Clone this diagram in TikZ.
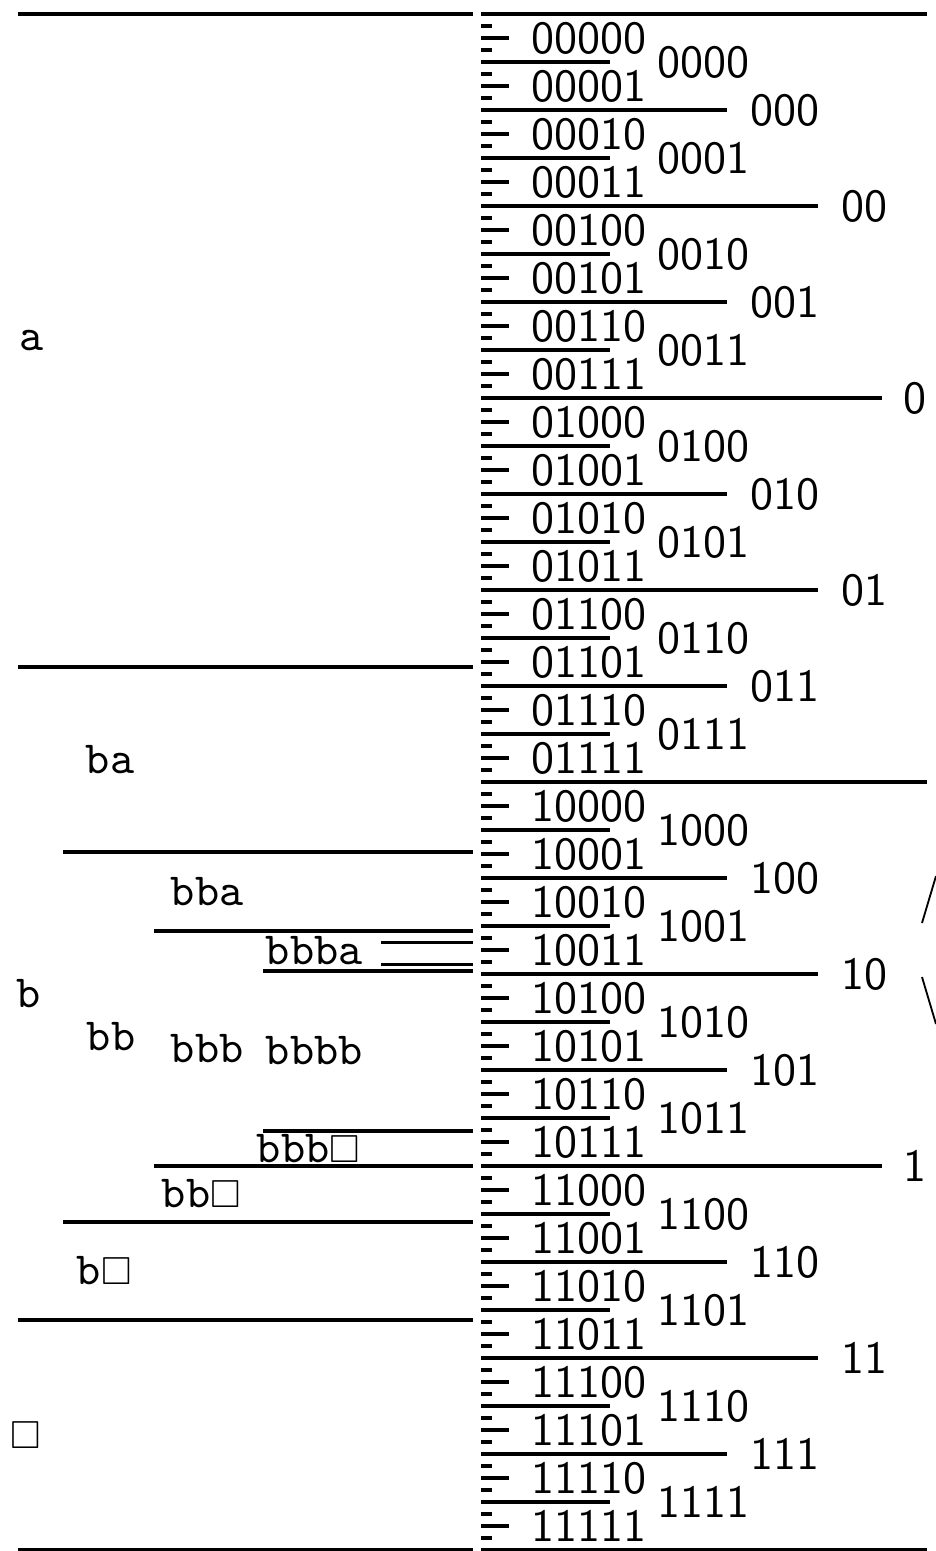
\documentclass[tikz,border=0pt]{standalone}
\usepackage{amssymb}
\usepackage{fontspec}
\newcommand{\bx}{\scalebox{0.85}{$\square$}}
\begin{document}
\begin{tikzpicture}[x=0.2174pt,y=-0.2174pt,
  rule/.style={line width=0.75pt},
  thin rule/.style={line width=0.4pt},
  sym/.style={anchor=west,inner sep=0pt,font=\ttfamily},
  bin/.style={anchor=west,inner sep=0pt,font=\sffamily}]
\useasboundingbox (0,0) rectangle (936,1551);
% ---------- left: source intervals ----------
\foreach \y in {14,667,1320,1550} \draw[rule] (18,\y) -- (473,\y);
\foreach \y in {852,1222} \draw[rule] (63,\y) -- (473,\y);
\foreach \y in {931,1166} \draw[rule] (154,\y) -- (473,\y);
\foreach \y in {971,1131} \draw[rule] (263,\y) -- (473,\y);
\foreach \y in {942.5,964.5} \draw[rule] (381,\y) -- (473,\y);
\node[sym] (sa) at (19,340.5) {a};
\node[sym] (sb) at (16,993.5) {b};
\node[sym] (se) at (10,1435) {\bx};
\node[sym] (sba) at (85,760) {ba};
\node[sym] (sbb) at (86,1037) {bb};
\node[sym] (sbe) at (76,1271) {b\bx};
\node[sym] (sbba) at (170,891.5) {bba};
\node[sym] (sbbb) at (170,1048.5) {bbb};
\node[sym] (sbbe) at (161,1194) {bb\bx};
\node[sym] (sbbba) at (265,951) {bbba};
\node[sym] (sbbbb) at (265,1051) {bbbb};
\node[sym] (sbbbe) at (256,1148.5) {bbb\bx};
% ---------- right: binary intervals ----------
\foreach \y in {14,782,1550} \draw[rule] (481,\y) -- (927,\y);
\foreach \k in {0,...,63} \draw[rule] (481,{26+24*\k}) -- (492,{26+24*\k});
\foreach \s [count=\k from 0] in {00000,00001,00010,00011,00100,00101,00110,00111,01000,01001,01010,01011,01100,01101,01110,01111,10000,10001,10010,10011,10100,10101,10110,10111,11000,11001,11010,11011,11100,11101,11110,11111}{
  \draw[rule] (481,{38+48*\k}) -- (509,{38+48*\k});
  \node[bin] (b\s) at (531,{38+48*\k}) {\s};
}
\foreach \s [count=\k from 0] in {0000,0001,0010,0011,0100,0101,0110,0111,1000,1001,1010,1011,1100,1101,1110,1111}{
  \draw[rule] (481,{62+96*\k}) -- (610,{62+96*\k});
  \node[bin] (b\s) at (657,{62+96*\k}) {\s};
}
\foreach \s [count=\k from 0] in {000,001,010,011,100,101,110,111}{
  \draw[rule] (481,{110+192*\k}) -- (727,{110+192*\k});
  \node[bin] (b\s) at (750,{110+192*\k}) {\s};
}
\foreach \s [count=\k from 0] in {00,01,10,11}{
  \draw[rule] (481,{206+384*\k}) -- (818,{206+384*\k});
  \node[bin] (b\s) at (841,{206+384*\k}) {\s};
}
\foreach \s [count=\k from 0] in {0,1}{
  \draw[rule] (481,{398+768*\k}) -- (882,{398+768*\k});
  \node[bin] (b\s) at (903,{398+768*\k}) {\s};
}
% ---------- edge of the magnified view ----------
\draw[thin rule] (922,923) -- (936,876);
\draw[thin rule] (922,977) -- (936,1024);
\end{tikzpicture}
\end{document}
